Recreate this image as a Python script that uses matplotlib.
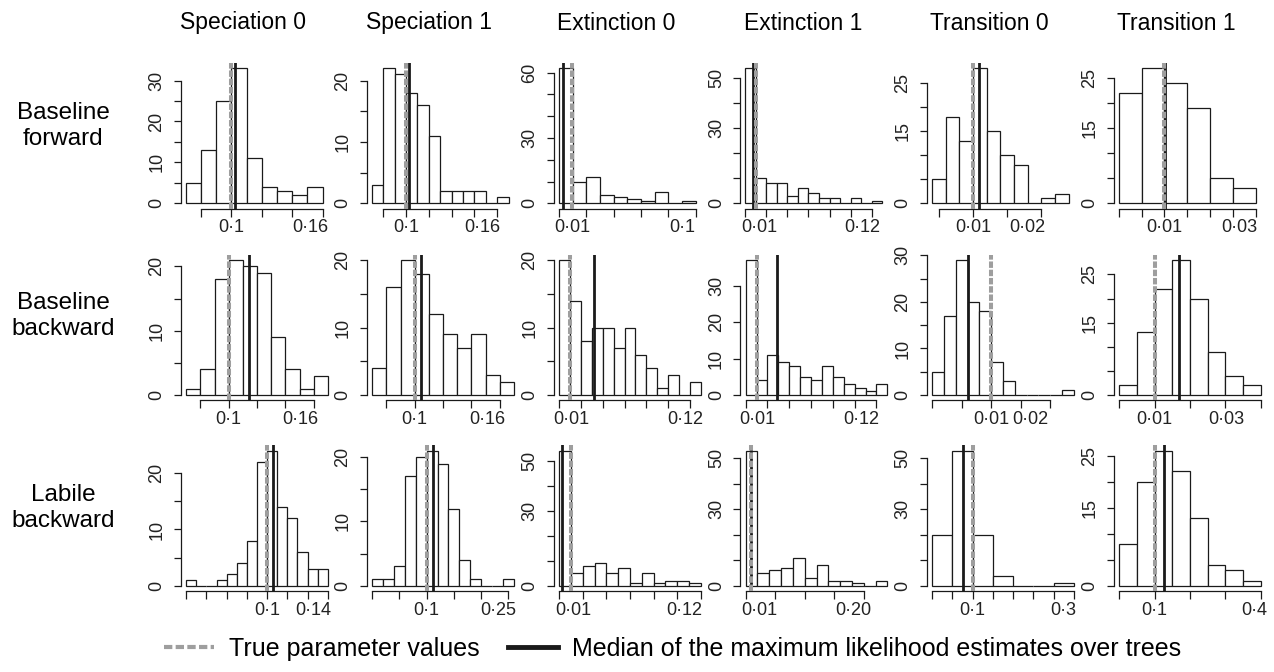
import matplotlib
matplotlib.use("Agg")
import matplotlib.pyplot as plt
import numpy as np
from matplotlib.lines import Line2D

plt.rcParams["font.family"] = ["Liberation Sans", "DejaVu Sans"]

params = ["Speciation 0", "Speciation 1", "Extinction 0",
          "Extinction 1", "Transition 0", "Transition 1"]
scenarios = ["Baseline\nforward", "Baseline\nbackward", "Labile\nbackward"]
legend_labels = ["True parameter values",
                 "Median of the maximum likelihood estimates over trees"]

# histogram counts, one list per parameter (columns)
counts_fwd = [
    [5, 13, 25, 33, 11, 4, 3, 2, 4],
    [3, 22, 21, 18, 16, 11, 2, 2, 2, 2, 0, 1],
    [62, 10, 12, 4, 3, 2, 1, 5, 0, 1],
    [54, 10, 8, 8, 3, 6, 4, 2, 2, 0, 2, 0, 1],
    [5, 18, 13, 28, 15, 10, 8, 0, 1, 2],
    [22, 27, 24, 19, 5, 3],
]
counts_bwd = [
    [1, 4, 18, 21, 20, 19, 9, 4, 1, 3],
    [4, 16, 20, 18, 12, 9, 7, 9, 3, 2],
    [20, 14, 8, 10, 10, 7, 10, 6, 4, 1, 3, 0, 2],
    [37, 4, 11, 9, 8, 5, 4, 8, 5, 3, 2, 1, 3],
    [5, 17, 29, 20, 18, 7, 3, 0, 0, 0, 0, 1],
    [2, 13, 22, 28, 20, 9, 4, 2],
]
counts_lab = [
    [1, 0, 0, 1, 2, 4, 8, 22, 24, 14, 12, 6, 3, 3],
    [1, 1, 3, 17, 20, 21, 19, 12, 4, 1, 0, 0, 1],
    [54, 5, 8, 9, 5, 7, 1, 5, 1, 2, 2, 1],
    [53, 5, 6, 7, 11, 3, 8, 2, 2, 1, 0, 2],
    [20, 53, 20, 4, 0, 0, 1],
    [8, 20, 26, 22, 13, 4, 3, 1],
]

# true value / median estimate, in bin units of each histogram axis
true_fwd = [3.0, 3.0, 0.98, 0.98, 3.0, 2.0]
median_fwd = [3.22, 3.25, 0.29, 0.67, 3.44, 2.02]
true_bwd = [3.0, 3.0, 0.98, 1.0, 5.0, 2.0]
median_bwd = [4.42, 3.48, 3.19, 2.85, 3.0, 3.4]
true_lab = [8.0, 5.0, 1.0, 0.48, 2.0, 2.0]
median_lab = [8.63, 5.6, 0.25, 0.45, 1.5, 2.55]

# x axis ticks (first, last, step) and value labels (bin units)
xticks_fwd = [(1, 9, 2), (1, 11, 2), (0, 10, 2), (0, 12, 2), (0.5, 8, 2.5), (0, 6, 1)]
xticks_bwd = [(1, 9, 2), (1, 9, 2), (0, 12, 2), (0, 12, 2), (0, 10, 2.5), (0, 8, 2)]
xticks_lab = [(0, 14, 2), (0, 12.5, 2.5), (0, 12, 2), (0, 10, 2.5), (0, 7, 1), (0, 8, 2)]
xlabels_fwd = [[(3, "0·1"), (8.2, "0·16")], [(3, "0·1"), (9.7, "0·16")],
               [(1, "0·01"), (9, "0·1")], [(1.3, "0·01"), (11.1, "0·12")],
               [(3, "0·01"), (7, "0·02")], [(2, "0·01"), (5.3, "0·03")]]
xlabels_bwd = [[(3, "0·1"), (8.05, "0·16")], [(3, "0·1"), (8.1, "0·16")],
               [(1.1, "0·01"), (11.6, "0·12")], [(1.07, "0·01"), (10.6, "0·12")],
               [(5, "0·01"), (8.35, "0·02")], [(2, "0·01"), (6.07, "0·03")]]
xlabels_lab = [[(8, "0·1"), (12.6, "0·14")], [(5, "0·1"), (11.56, "0·25")],
               [(1.2, "0·01"), (10.6, "0·12")], [(1.14, "0·01"), (9.1, "0·20")],
               [(2, "0·1"), (6.5, "0·3")], [(2, "0·1"), (7.6, "0·4")]]

# y axis: (top tick, step, labelled ticks)
yaxis_fwd = [(30, 5, [0, 10, 20, 30]), (20, 5, [0, 10, 20]), (60, 10, [0, 30, 60]),
             (50, 10, [0, 30, 50]), (25, 5, [0, 15, 25]), (25, 5, [0, 15, 25])]
yaxis_bwd = [(20, 5, [0, 10, 20]), (20, 5, [0, 10, 20]), (20, 5, [0, 10, 20]),
             (30, 10, [0, 10, 20, 30]), (30, 5, [0, 10, 20, 30]), (25, 5, [0, 15, 25])]
yaxis_lab = [(20, 5, [0, 10, 20]), (20, 5, [0, 10, 20]), (50, 10, [0, 30, 50]),
             (50, 10, [0, 30, 50]), (50, 10, [0, 30, 50]), (25, 5, [0, 15, 25])]

counts = [counts_fwd, counts_bwd, counts_lab]
trues = [true_fwd, true_bwd, true_lab]
medians = [median_fwd, median_bwd, median_lab]
xticks = [xticks_fwd, xticks_bwd, xticks_lab]
xlabels = [xlabels_fwd, xlabels_bwd, xlabels_lab]
yaxes = [yaxis_fwd, yaxis_bwd, yaxis_lab]

GREY = "#9e9e9e"
DARK = "#1a1a1a"
DASH = (0, (1.6, 0.45))
W, H = 1274, 672
col_left = [180.5, 366.5, 553.5, 740, 926.5, 1113.5]
row_top = [62.9, 254.6, 445.3]
row_w = [147.5, 153, 153]
row_h = 145.8


def box(left, top, w, h):
    return [left / W, 1 - (top + h) / H, w / W, h / H]


def draw_hist(ax, cnt, true_x, med_x, xt, xl, yt):
    n = len(cnt)
    m = max(cnt)
    ax.bar(np.arange(n), cnt, width=1, align="edge", color="white",
           edgecolor=DARK, linewidth=0.9, zorder=2)
    ax.axvline(med_x, color=DARK, lw=2.0, zorder=3)
    ax.axvline(true_x, color=GREY, lw=2.9, ls=DASH, zorder=4)
    ax.set_xlim(-0.04 * n, 1.04 * n)
    ax.set_ylim(-0.04 * m, 1.04 * m)
    for s in ("top", "right"):
        ax.spines[s].set_visible(False)
    for s in ("left", "bottom"):
        ax.spines[s].set_linewidth(0.9)
        ax.spines[s].set_color(DARK)

    top, step, labs = yt
    yv = np.arange(0, top + step / 2, step)
    ax.set_yticks(yv)
    ax.set_yticklabels([str(int(v)) if v in labs else "" for v in yv])
    ax.spines["left"].set_bounds(0, top)

    x0, x1, xs = xt
    ax.set_xticks(np.arange(x0, x1 + xs / 2, xs))
    ax.set_xticklabels([])
    ax.xaxis.remove_overlapping_locs = False
    ax.set_xticks([p for p, _ in xl], minor=True)
    ax.set_xticklabels([t for _, t in xl], minor=True)
    ax.spines["bottom"].set_bounds(x0, x1)

    ax.tick_params(axis="both", which="major", direction="out", length=5.4,
                   width=0.9, color=DARK, labelsize=13, labelcolor="#222222")
    ax.tick_params(axis="x", which="minor", length=0, pad=7.5,
                   labelsize=13, labelcolor="#222222")
    ax.tick_params(axis="y", which="major", pad=5.5, labelrotation=90)
    for t in ax.get_yticklabels():
        t.set_va("center")


fig = plt.figure(figsize=(W / 100, H / 100), dpi=100)

for r in range(3):
    for c in range(6):
        ax = fig.add_axes(box(col_left[c], row_top[r], row_w[r], row_h))
        draw_hist(ax, counts[r][c], trues[r][c], medians[r][c],
                  xticks[r][c], xlabels[r][c], yaxes[r][c])

for c, name in enumerate(params):
    fig.text((col_left[c] + 63) / W, 1 - 23 / H, name,
             ha="center", va="center", fontsize=16.5)

for r, (name, yc) in enumerate(zip(scenarios, [126, 316, 508])):
    fig.text(63 / W, 1 - yc / H, name, ha="center", va="center",
             fontsize=17.5, linespacing=1.2)

handles = [Line2D([], [], color=GREY, lw=3.0, ls=(0, (2.0, 0.8))),
           Line2D([], [], color=DARK, lw=3.5)]
fig.legend(handles, legend_labels, loc="center", ncol=2, frameon=False,
           bbox_to_anchor=(673 / W, 1 - 649 / H), fontsize=18,
           handlelength=2.0, handletextpad=0.6, columnspacing=1.1)

fig.savefig("out.png", dpi=100)
